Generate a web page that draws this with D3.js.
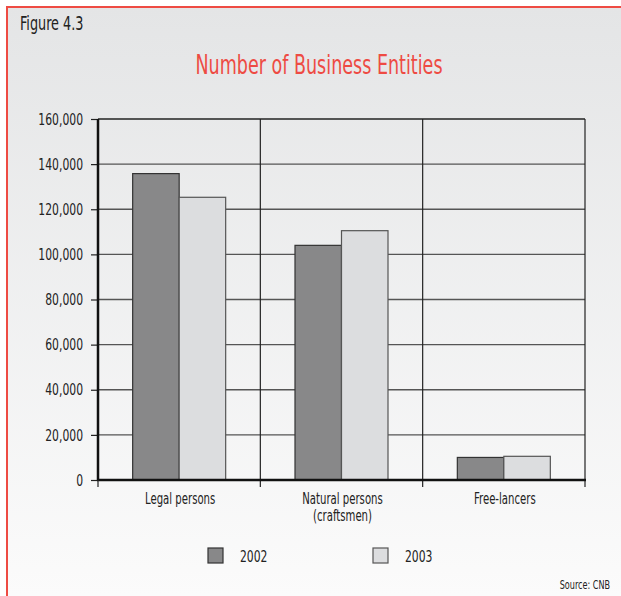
<!DOCTYPE html>
<html>
<head>
<meta charset="utf-8">
<script src="https://cdn.jsdelivr.net/npm/d3@7"></script>
<style>
  body { margin: 0; padding: 0; }
  svg text { font-family: "DejaVu Sans Condensed", "DejaVu Sans", sans-serif; font-stretch: condensed; fill: #222; }
</style>
</head>
<body>
<div id="chart-area"></div>
<script>
// data
let categories = ["Legal persons", "Natural persons|(craftsmen)", "Free-lancers"];
let years = ["2002", "2003"];
let values2002 = [135800, 104000, 10000];
let values2003 = [125300, 110500, 10500];
let yTicks = [0, 20000, 40000, 60000, 80000, 100000, 120000, 140000, 160000];

// define margins
let margin = {top: 119, right: 36, bottom: 116, left: 98};
let W = 621, H = 596;
let width = W - margin.left - margin.right,
    height = H - margin.top - margin.bottom;

let svg = d3.select("#chart-area")
    .append("svg")
    .attr("width", W)
    .attr("height", H);

// background gradient
let grad = svg.append("defs").append("linearGradient")
    .attr("id", "bg").attr("x1", 0).attr("y1", 0).attr("x2", 0).attr("y2", 1);
grad.append("stop").attr("offset", "0%").attr("stop-color", "#e4e5e6");
grad.append("stop").attr("offset", "100%").attr("stop-color", "#fbfbfb");

svg.append("rect").attr("x", 0).attr("y", 0).attr("width", W).attr("height", H).attr("fill", "#ffffff");
svg.append("rect").attr("x", 8).attr("y", 7).attr("width", W - 8).attr("height", H - 7).attr("fill", "url(#bg)");

// red frame (left + top)
svg.append("line").attr("x1", 7).attr("x2", 7).attr("y1", 6).attr("y2", H)
    .attr("stroke", "#ee4b43").attr("stroke-width", 2);
svg.append("line").attr("x1", 6).attr("x2", W).attr("y1", 7).attr("y2", 7)
    .attr("stroke", "#ee4b43").attr("stroke-width", 2);

svg.append("text").attr("x", 20).attr("y", 30)
    .style("font-size", "19px")
    .text("Figure 4.3");

svg.append("text").attr("x", 319).attr("y", 74)
    .attr("text-anchor", "middle")
    .style("font-size", "26px")
    .style("fill", "#ee4b43")
    .text("Number of Business Entities");

let g = svg.append("g")
    .attr("transform", "translate(" + margin.left + "," + margin.top + ")");

// scales
let x0 = d3.scaleBand().domain(categories).range([0, width]).padding(0);
let x1 = d3.scaleBand().domain(years).range([0, 93]).padding(0);
let y = d3.scaleLinear().domain([0, 160000]).range([height, 0]);

// horizontal grid
g.selectAll(".hgrid")
    .data(yTicks.filter(d => d > 0))
    .enter().append("line")
    .attr("class", "hgrid")
    .attr("x1", 0).attr("x2", width)
    .attr("y1", d => y(d)).attr("y2", d => y(d))
    .attr("stroke", d => d == 160000 ? "#222" : "#555")
    .attr("stroke-width", 1.4);

// vertical separators
g.selectAll(".vgrid")
    .data(categories)
    .enter().append("line")
    .attr("class", "vgrid")
    .attr("x1", d => x0(d) + x0.bandwidth()).attr("x2", d => x0(d) + x0.bandwidth())
    .attr("y1", 0).attr("y2", height + 7)
    .attr("stroke", "#222").attr("stroke-width", 1.2);

// bars
let rows = categories.map((c, i) => ({cat: c, vals: [values2002[i], values2003[i]]}));
let fills = ["#888889", "#dcdddf"];
let strokes = ["#333", "#555"];

let grp = g.selectAll(".grp")
    .data(rows)
    .enter().append("g")
    .attr("class", "grp")
    .attr("transform", d => "translate(" + (x0(d.cat) + x0.bandwidth() / 2 - 46.5) + ",0)");

grp.selectAll("rect")
    .data(d => d.vals.map((v, j) => ({year: years[j], v: v, j: j})))
    .enter().append("rect")
    .attr("x", d => x1(d.year))
    .attr("y", d => y(d.v))
    .attr("width", x1.bandwidth())
    .attr("height", d => height - y(d.v))
    .attr("fill", d => fills[d.j])
    .attr("stroke", d => strokes[d.j])
    .attr("stroke-width", 1.2);

// y axis
let yAxis = g.append("g")
    .call(d3.axisLeft(y).tickValues(yTicks).tickSize(7).tickPadding(8)
        .tickFormat(d3.format(",")));
yAxis.select(".domain").remove();
yAxis.selectAll(".tick line").attr("stroke", "#222").attr("stroke-width", 1.2);
yAxis.selectAll("text").style("font-size", "16px").style("fill", "#222");

g.append("line").attr("x1", 0).attr("x2", 0).attr("y1", 0).attr("y2", height + 1)
    .attr("stroke", "#111").attr("stroke-width", 2.5);
g.append("line").attr("x1", -1).attr("x2", width + 1).attr("y1", height).attr("y2", height)
    .attr("stroke", "#111").attr("stroke-width", 2.5);
g.append("line").attr("x1", 0).attr("x2", 0).attr("y1", height).attr("y2", height + 7)
    .attr("stroke", "#222").attr("stroke-width", 1.2);

// category labels
let lab = g.selectAll(".catlab")
    .data(categories)
    .enter().append("text")
    .attr("class", "catlab")
    .attr("text-anchor", "middle")
    .attr("transform", d => "translate(" + (x0(d) + x0.bandwidth() / 2 + 1) + "," + (height + 24) + ")")
    .style("font-size", "15px");
lab.selectAll("tspan")
    .data(d => d.split("|"))
    .enter().append("tspan")
    .attr("x", 0)
    .attr("y", (d, i) => i * 17)
    .text(d => d);

// legend
let legend = svg.selectAll(".legend")
    .data(years)
    .enter().append("g")
    .attr("class", "legend")
    .attr("transform", (d, i) => "translate(" + (208 + i * 165) + ",548)");
legend.append("rect")
    .attr("width", 15).attr("height", 15)
    .attr("fill", (d, i) => fills[i])
    .attr("stroke", (d, i) => strokes[i]).attr("stroke-width", 1.2);
legend.append("text")
    .attr("x", 32).attr("y", 14)
    .style("font-size", "16px")
    .text(d => d);

// squeeze all text to look like a condensed face
let squeeze = 0.75;
svg.selectAll("text").each(function() {
    let t = d3.select(this);
    if (t.selectAll("tspan").size() > 0) {
        t.selectAll("tspan").each(function() {
            d3.select(this).attr("textLength", this.getComputedTextLength() * squeeze)
                .attr("lengthAdjust", "spacingAndGlyphs");
        });
    } else {
        t.attr("textLength", this.getComputedTextLength() * squeeze)
            .attr("lengthAdjust", "spacingAndGlyphs");
    }
});

// source note, squeezed with a transform instead
svg.append("g")
    .attr("transform", "translate(610,589) scale(" + squeeze + ",1)")
    .append("text")
    .attr("text-anchor", "end")
    .style("font-size", "12px")
    .text("Source: CNB");
</script>
</body>
</html>
